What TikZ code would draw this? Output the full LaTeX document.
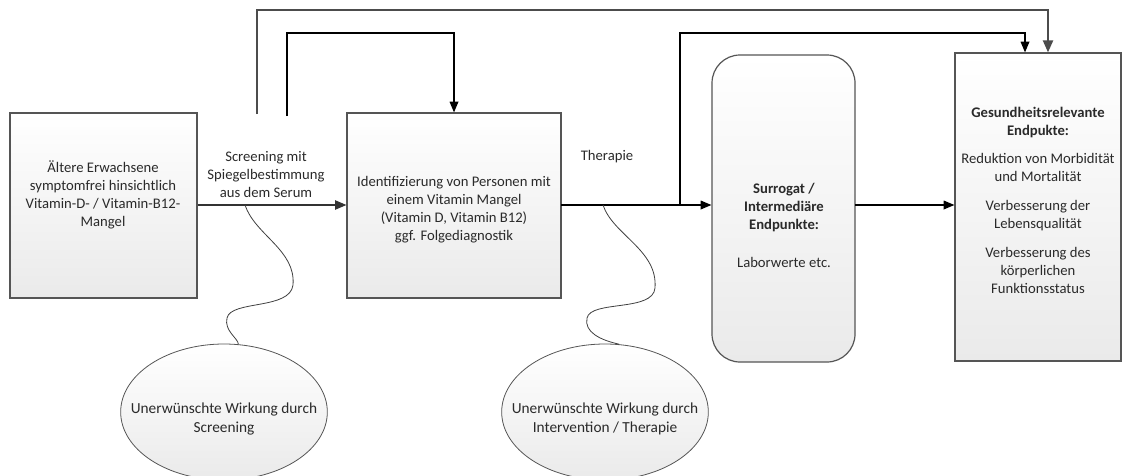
\documentclass[tikz,border=0pt]{standalone}
\usepackage{fontspec}
\setmainfont{Carlito}
\usetikzlibrary{arrows.meta,shapes.geometric,fit}
\definecolor{edgec}{HTML}{555555}
\definecolor{fillb}{HTML}{EAEAEA}
\definecolor{txtc}{HTML}{2A2A2A}
\tikzset{
  box/.style={draw=edgec, line width=0.9pt, top color=white, bottom color=fillb, inner sep=0pt},
  ell/.style={ellipse, draw=edgec, line width=0.6pt, top color=white, bottom color=fillb, inner sep=0pt, minimum width=155pt, minimum height=102pt},
  txt/.style={align=center, text=txtc, font=\fontsize{11}{13.5}\selectfont, inner sep=0pt},
  etxt/.style={align=center, text=txtc, font=\fontsize{11.5}{14}\selectfont, inner sep=0pt},
  conn/.style={line width=0.9pt, black, -{Triangle[length=8pt,width=6.5pt]}},
  mainarrow/.style={line width=0.9pt, black!80, -{Triangle[length=8.5pt,width=7pt]}},
  outerarrow/.style={line width=1.6pt, black!70, -{Triangle[length=9pt,width=7.5pt]}},
  wiggle/.style={line width=0.6pt, black!75},
}
\begin{document}
\begin{tikzpicture}[x=0.75pt,y=-0.75pt]
\useasboundingbox (0,0) rectangle (1130,475);
% boxes
\node[box, fit={(10,113) (197,298)}] (b1) {};
\node[box, fit={(347,113) (561,298)}] (b2) {};
\node[box, rounded corners=21pt, fit={(712,55) (855,362)}] (sur) {};
\node[box, fit={(955,53) (1121,361)}] (b3) {};
\node[ell] (e1) at (224,412) {};
\node[ell] (e2) at (605,412) {};
% texts
\node[txt] (t1) at (103,195) {Ältere Erwachsene\\symptomfrei hinsichtlich\\Vitamin-D- / Vitamin-B12-\\Mangel};
\node[txt] (l1) at (266,175) {Screening mit\\Spiegelbestimmung\\aus dem Serum};
\node[txt] (t2) at (454,210) {Identifizierung von Personen mit\\einem Vitamin Mangel\\(Vitamin D, Vitamin B12)\\ggf. Folgediagnostik};
\node[txt] (l2) at (607,157) {Therapie};
\node[txt] (t3) at (784,225) {\textbf{Surrogat /}\\\textbf{Intermediäre}\\\textbf{Endpunkte:}\\[15pt]Laborwerte etc.};
\node[txt] (t4) at (1038,200) {\textbf{Gesundheitsrelevante}\\\textbf{Endpukte:}\\[8pt]Reduktion von Morbidität\\und Mortalität\\[8pt]Verbesserung der\\Lebensqualität\\[8pt]Verbesserung des\\körperlichen\\Funktionsstatus};
\node[etxt] (et1) at (224,419) {Unerwünschte Wirkung durch\\Screening};
\node[etxt] (et2) at (605,419) {Unerwünschte Wirkung durch\\Intervention / Therapie};
% connectors
\coordinate (m1) at (561,205);
\coordinate (m2) at (855,205);
\draw[mainarrow] (b1.east |- m1) -- (b2.west |- m1);
\draw[conn] (m1) -- (sur.west |- m1);
\draw[conn] (m2) -- (b3.west |- m2);
\coordinate (o1) at (257,114);
\coordinate (o2) at (1048,10);
\draw[outerarrow] (o1) |- (o2) -- (o2 |- b3.north);
\coordinate (i1) at (287,116);
\coordinate (i2) at (287,33);
\draw[conn] (i1) -- (i2) -| (b2.north);
\coordinate (j1) at (680,205);
\coordinate (j2) at (1025,33);
\draw[conn] (j1) |- (j2) -- (j2 |- b3.north);
% wiggles
\coordinate (s1) at (245,205);
\coordinate (s2) at (603,205);
\draw[wiggle] (s1) .. controls (255,235) and (296,250) .. (293,285) .. controls (290,310) and (231,300) .. (227,318) .. controls (224,331) and (238,338) .. (e1.78);
\draw[wiggle] (s2) .. controls (613,235) and (658,250) .. (655,288) .. controls (653,312) and (591,300) .. (587,318) .. controls (584,332) and (600,340) .. (e2.78);
\end{tikzpicture}
\end{document}
